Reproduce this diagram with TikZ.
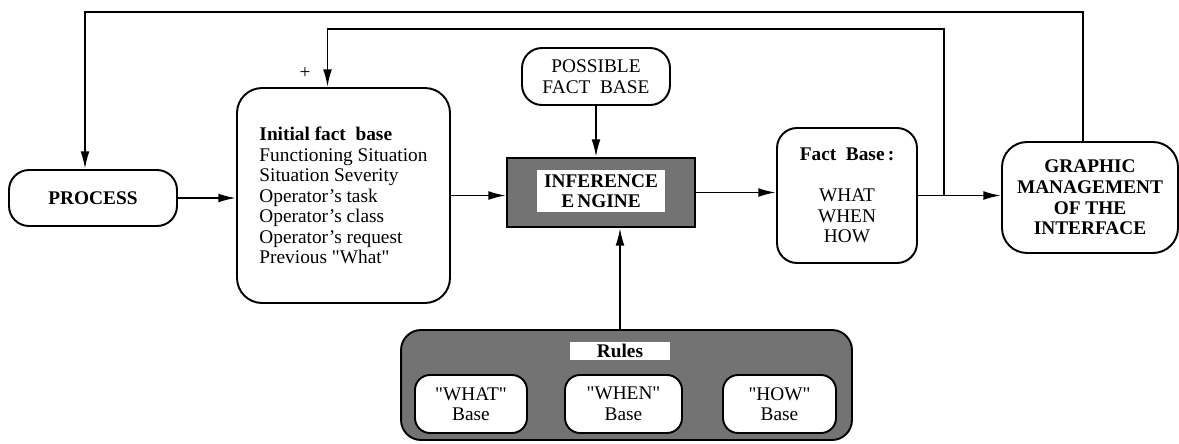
\documentclass[tikz,border=0pt]{standalone}
\usepackage{fontspec}
\setmainfont{Liberation Serif}
\usetikzlibrary{arrows.meta}

\tikzset{
  box/.style={draw=black, line width=1.1pt, rounded corners=0.4cm, align=center, inner sep=2pt},
  bold/.style={font=\fontsize{11}{11.7}\selectfont\bfseries},
  basebox/.style={draw=black, line width=1.1pt, fill=white, rounded corners=0.3cm, align=center,
    minimum height=1.16cm, inner sep=1pt},
  shadebox/.style={draw=black, line width=1.1pt, fill=black!55},
  flow/.style={-{Latex[length=10pt,width=5pt]}, line width=1.1pt},
}

\begin{document}
\begin{tikzpicture}[x=0.02cm, y=-0.02cm, every node/.style={font=\fontsize{11}{11.7}\selectfont}]
    \useasboundingbox (0,0) rectangle (1179,443);
    % left part
    \node[box, bold, minimum width=3.36cm, minimum height=1.12cm] (process) at (93,198) {PROCESS};
    \node[box, align=left, rounded corners=0.5cm, minimum width=4.26cm, minimum height=4.3cm] (initial) at (343.5,195.5)
      {{\bfseries Initial fact\enspace base}\\Functioning Situation\\Situation Severity\\Operator's task\\
       Operator's class\\Operator's request\\Previous \textquotedbl What\textquotedbl};
    \node at (305,73) {+};
    % engine and what feeds it
    \node[box, minimum width=2.96cm, minimum height=1.14cm] (possible) at (596,76.5) {POSSIBLE\\FACT\enspace BASE};
    \node[shadebox, minimum width=3.76cm, minimum height=1.38cm] (engine) at (601,192.5) {};
    \node[bold, fill=white, align=center, inner sep=0pt, minimum width=2.56cm, minimum height=0.84cm] (enginetxt) at (601,191)
      {INFERENCE\\E\,NGINE};
    \node[shadebox, rounded corners=0.4cm, minimum width=9.02cm, minimum height=2.2cm] (rules) at (626.5,385) {};
    \node[bold, fill=white, inner sep=0pt, minimum width=2cm, minimum height=0.36cm] (rulestag) at (620,351) {Rules};
    \node[basebox, minimum width=2.24cm] (whatbase) at (471,404) {\textquotedbl WHAT\textquotedbl\\Base};
    \node[basebox, minimum width=2.34cm] (whenbase) at (623.5,404) {\textquotedbl WHEN\textquotedbl\\Base};
    \node[basebox, minimum width=2.26cm] (howbase) at (779.5,404) {\textquotedbl HOW\textquotedbl\\Base};
    % right part
    \node[box, minimum width=2.8cm, minimum height=2.7cm] (factbase) at (847,195.5)
      {{\bfseries Fact\enspace Base\,:}\\[11.7pt]WHAT\\WHEN\\HOW};
    \node[box, bold, rounded corners=0.5cm, minimum width=3.52cm, minimum height=2.22cm] (graphic) at (1090,197.5)
      {GRAPHIC\\MANAGEMENT\\OF THE\\INTERFACE};
    % connectors
    \coordinate (split) at (944,195);
    \coordinate (toprow) at (0,12);
    \coordinate (midrow) at (0,29);
    \draw[flow] (process.east) -- (process.east -| initial.west);
    \draw[flow] (initial.east) -- (initial.east -| engine.west);
    \draw[flow] (possible.south) -- (possible.south |- engine.north);
    \draw[flow] (rulestag |- rules.north) -- (rulestag |- engine.south);
    \draw[flow] (engine.east) -- (engine.east -| factbase.west);
    \draw[flow] (factbase.east) -- (factbase.east -| graphic.west);
    \draw[flow] ([xshift=-0.14cm]graphic.north) -- ([xshift=-0.14cm]graphic.north |- toprow) -| ([xshift=-0.16cm]process.north);
    \draw[flow] (split) -- (split |- midrow) -| ([xshift=-0.32cm]initial.north);
\end{tikzpicture}
\end{document}
